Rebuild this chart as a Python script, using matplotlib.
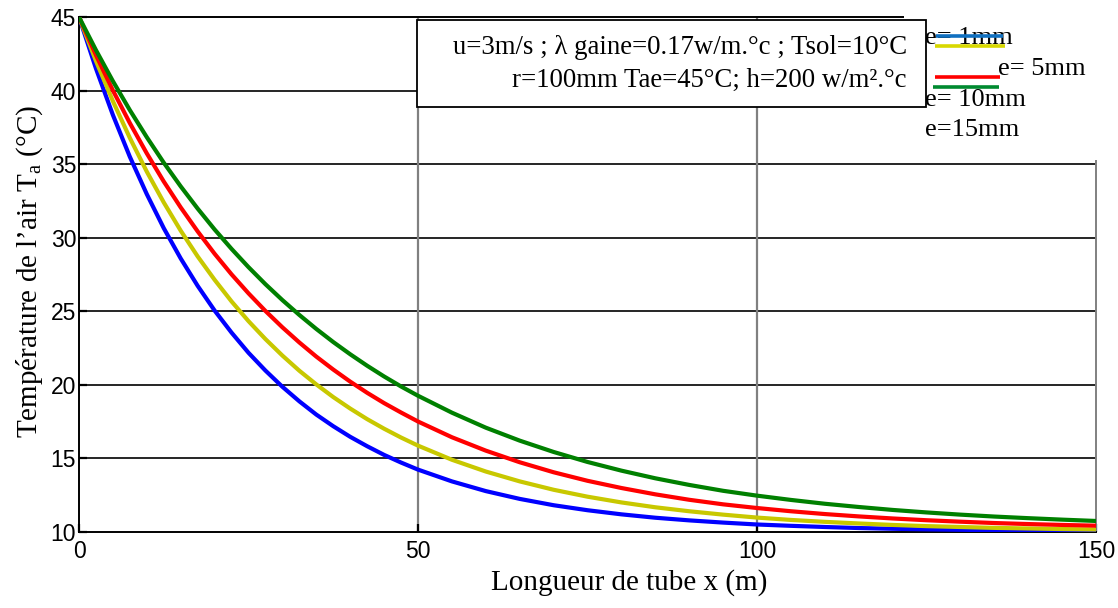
import matplotlib
matplotlib.use("Agg")
import matplotlib.pyplot as plt
from matplotlib.patches import Rectangle
from matplotlib.lines import Line2D

# Air temperature along the buried tube for several sheath thicknesses
x_m = [0, 2.5, 5, 7.5, 10, 12.5, 15, 17.5, 20, 22.5, 25, 27.5, 30, 32.5, 35,
       37.5, 40, 42.5, 45, 47.5, 50, 55, 60, 65, 70, 75, 80, 85, 90, 95, 100,
       105, 110, 115, 120, 125, 130, 135, 140, 145, 150]
t_e1 = [45.0, 41.50, 38.34, 35.50, 32.96, 30.65, 28.59, 26.73, 25.05, 23.55,
        22.18, 20.97, 19.87, 18.88, 17.98, 17.19, 16.47, 15.83, 15.24, 14.72,
        14.24, 13.44, 12.78, 12.25, 11.82, 11.48, 11.20, 10.97, 10.79, 10.64,
        10.51, 10.42, 10.34, 10.27, 10.22, 10.18, 10.15, 10.12, 10.10, 10.08, 10.06]
t_e5 = [45.0, 42.01, 39.28, 36.78, 34.49, 32.40, 30.48, 28.73, 27.14, 25.67,
        24.33, 23.11, 21.99, 20.96, 20.03, 19.17, 18.39, 17.67, 17.02, 16.42,
        15.87, 14.91, 14.11, 13.44, 12.87, 12.40, 12.01, 11.68, 11.41, 11.18,
        10.98, 10.82, 10.69, 10.58, 10.48, 10.40, 10.34, 10.28, 10.24, 10.20, 10.17]
t_e10 = [45.0, 42.41, 40.01, 37.79, 35.73, 33.82, 32.06, 30.43, 28.91, 27.51,
         26.22, 25.02, 23.91, 22.88, 21.92, 21.04, 20.22, 19.46, 18.76, 18.12,
         17.51, 16.44, 15.53, 14.74, 14.06, 13.48, 12.99, 12.56, 12.19, 11.88,
         11.63, 11.41, 11.22, 11.06, 10.92, 10.80, 10.70, 10.61, 10.54, 10.48, 10.43]
t_e15 = [45.0, 42.75, 40.64, 38.67, 36.83, 35.10, 33.49, 31.98, 30.56, 29.24,
         28.00, 26.84, 25.76, 24.75, 23.80, 22.91, 22.08, 21.30, 20.57, 19.89,
         19.26, 18.11, 17.09, 16.21, 15.44, 14.76, 14.17, 13.65, 13.20, 12.80,
         12.47, 12.18, 11.92, 11.70, 11.50, 11.33, 11.18, 11.05, 10.94, 10.84, 10.75]

series = [t_e1, t_e5, t_e10, t_e15]
labels = ["e= 1mm", "e= 5mm", "e= 10mm", "e=15mm"]
curve_colors = ["#0000ff", "#c8c800", "#ff0000", "#008000"]
key_colors = ["#1070c0", "#d8d800", "#ff0000", "#008a30"]

x_ticks = [0, 50, 100, 150]
y_ticks = [10, 15, 20, 25, 30, 35, 40, 45]

W, H = 1118, 608
SERIF = ["Liberation Serif", "DejaVu Serif"]
NARROW = ["Liberation Sans Narrow", "Liberation Sans", "DejaVu Sans"]

plt.rcParams["mathtext.fontset"] = "custom"
plt.rcParams["mathtext.rm"] = "Liberation Serif"
plt.rcParams["mathtext.it"] = "Liberation Serif:italic"


def fx(px):
    return px / W


def fy(py):
    return 1 - py / H


fig = plt.figure(figsize=(W / 100, H / 100), dpi=100)
ax = fig.add_axes([fx(79), fy(532), fx(1096) - fx(79), fy(17) - fy(532)])

for ys, c in zip(series, curve_colors):
    ax.plot(x_m, ys, color=c, lw=3.0, solid_capstyle="butt",
            solid_joinstyle="round", zorder=3)

ax.set_xlim(0, 150)
ax.set_ylim(10, 45)
ax.set_xticks(x_ticks)
ax.set_yticks(y_ticks)

for y in y_ticks[1:-1]:
    ax.axhline(y, color="black", lw=1.2, zorder=1)
for x in x_ticks[1:-1]:
    ax.axvline(x, color="#808080", lw=1.6, zorder=1)

for side in ("left", "bottom", "top"):
    ax.spines[side].set_color("black")
    ax.spines[side].set_linewidth(1.4)
ax.spines["right"].set_color("#808080")
ax.spines["right"].set_linewidth(1.4)

ax.tick_params(direction="in", length=6, width=1.6, colors="black")
ax.tick_params(axis="x", pad=6)
ax.tick_params(axis="y", pad=2)
for lab in ax.get_xticklabels() + ax.get_yticklabels():
    lab.set_family(NARROW)
    lab.set_fontsize(16.5)

# Axis titles
fig.text(fx(629), fy(583), "Longueur de tube x (m)", family=SERIF,
         fontsize=21, ha="center", va="center")
fig.text(fx(30), fy(272), r"Température de l’air T$_\mathrm{a}$ (°C)",
         family=SERIF, fontsize=21, ha="center", va="center", rotation=90)

# White area behind the key
fig.patches.append(Rectangle((fx(904), fy(160)), 1 - fx(904), fy(0) - fy(160),
                             transform=fig.transFigure, facecolor="white",
                             edgecolor="none", zorder=1))

# Parameter box
fig.patches.append(Rectangle((fx(417), fy(107)), fx(926) - fx(417), fy(20) - fy(107),
                             transform=fig.transFigure, facecolor="white",
                             edgecolor="black", lw=1.3, zorder=2))
fig.text(fx(907), fy(47), "u=3m/s ; λ gaine=0.17w/m.°c ; Tsol=10°C",
         family=SERIF, fontsize=19.3, ha="right", va="center", zorder=3)
fig.text(fx(907), fy(80), "r=100mm Tae=45°C; h=200 w/m².°c",
         family=SERIF, fontsize=19.3, ha="right", va="center", zorder=3)

# Key
key_lines = [(936, 1003, 36), (935, 1005, 45.5), (935, 1000, 77), (933, 999, 87)]
key_texts = [(925, 38), (998, 69), (925, 100), (925, 130)]
for lab, (tx, ty) in zip(labels, key_texts):
    fig.text(fx(tx), fy(ty), lab, family=SERIF, fontsize=19,
             ha="left", va="center", zorder=3)
for c, (x0, x1, y) in zip(key_colors, key_lines):
    fig.lines.append(Line2D([fx(x0), fx(x1)], [fy(y), fy(y)],
                            transform=fig.transFigure, color=c, lw=2.6,
                            solid_capstyle="butt", zorder=4))

fig.savefig("out.png", dpi=100)
